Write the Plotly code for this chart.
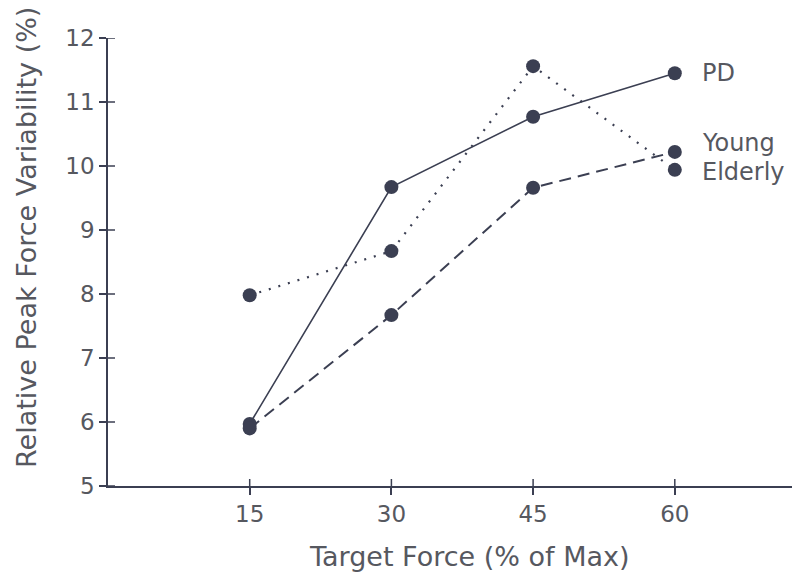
import plotly.graph_objects as go

target_force = [15, 30, 45, 60]
pd_values = [5.97, 9.67, 10.77, 11.45]
young_values = [5.90, 7.67, 9.66, 10.22]
elderly_values = [7.98, 8.67, 11.56, 9.94]
series_names = ["PD", "Young", "Elderly"]
y_ticks = [5, 6, 7, 8, 9, 10, 11, 12]

ink = "#3b3f52"
txt = "#56585f"
font_family = "DejaVu Sans"

W, H = 800, 580
ML, MR, MT, MB = 100, 0, 30, 102
PW, PH = W - ML - MR, H - MT - MB
TICK = 7

fig = go.Figure()
styles = [("solid", 1.6), ("12px,7px", 2.0), ("2px,8px", 2.2)]
for name, vals, (dash, w) in zip(series_names, [pd_values, young_values, elderly_values], styles):
    fig.add_trace(go.Scatter(
        x=target_force, y=vals, mode="lines+markers", name=name,
        line=dict(color=ink, width=w, dash=dash),
        marker=dict(color=ink, size=14),
        showlegend=False, cliponaxis=False,
    ))

label_shift = {"PD": 0, "Young": 9, "Elderly": -2}
for name, vals in zip(series_names, [pd_values, young_values, elderly_values]):
    fig.add_annotation(x=target_force[-1], y=vals[-1], text=name, showarrow=False,
                       xanchor="left", yanchor="middle", xshift=25, yshift=label_shift[name],
                       font=dict(family=font_family, size=24, color=txt))

# inner halves of the ticks, so that the ticks cross the axis lines
for v in y_ticks:
    fig.add_shape(type="line", xref="paper", yref="y", x0=0, x1=TICK / PW, y0=v, y1=v,
                  line=dict(color=ink, width=1.5), layer="above")
for v in target_force:
    fig.add_shape(type="line", xref="x", yref="paper", x0=v, x1=v, y0=0, y1=TICK / PH,
                  line=dict(color=ink, width=1.5), layer="above")

# axis titles
fig.add_annotation(text="Target Force (% of Max)", xref="paper", yref="paper",
                   x=0.515, y=-0.158, xanchor="center", yanchor="middle", showarrow=False,
                   font=dict(size=27, family=font_family, color=txt))
fig.add_annotation(text="Relative Peak Force Variability (%)", xref="paper", yref="paper",
                   x=0, y=0.5536, xshift=-81, xanchor="center", yanchor="middle",
                   textangle=-90, showarrow=False,
                   font=dict(size=27, family=font_family, color=txt))

xr = [0, 74.1]
yr = [5, 12]
fig.update_layout(
    width=W, height=H,
    margin=dict(l=ML, r=MR, t=MT, b=MB),
    paper_bgcolor="white", plot_bgcolor="white",
    font=dict(family=font_family, color=txt, size=23),
    xaxis=dict(range=xr, tickvals=target_force, ticks="outside", ticklen=TICK,
               tickcolor=ink, tickwidth=1.5, showline=True, linecolor=ink, linewidth=1.5,
               showgrid=False, zeroline=False, automargin=False,
               tickfont=dict(size=23, family=font_family, color=txt)),
    yaxis=dict(range=yr, tickvals=y_ticks, ticks="outside", ticklen=TICK,
               tickcolor=ink, tickwidth=1.5, showline=True, linecolor=ink, linewidth=1.5,
               showgrid=False, zeroline=False, automargin=False,
               tickfont=dict(size=23, family=font_family, color=txt)),
)

fig.write_html("out.html")
